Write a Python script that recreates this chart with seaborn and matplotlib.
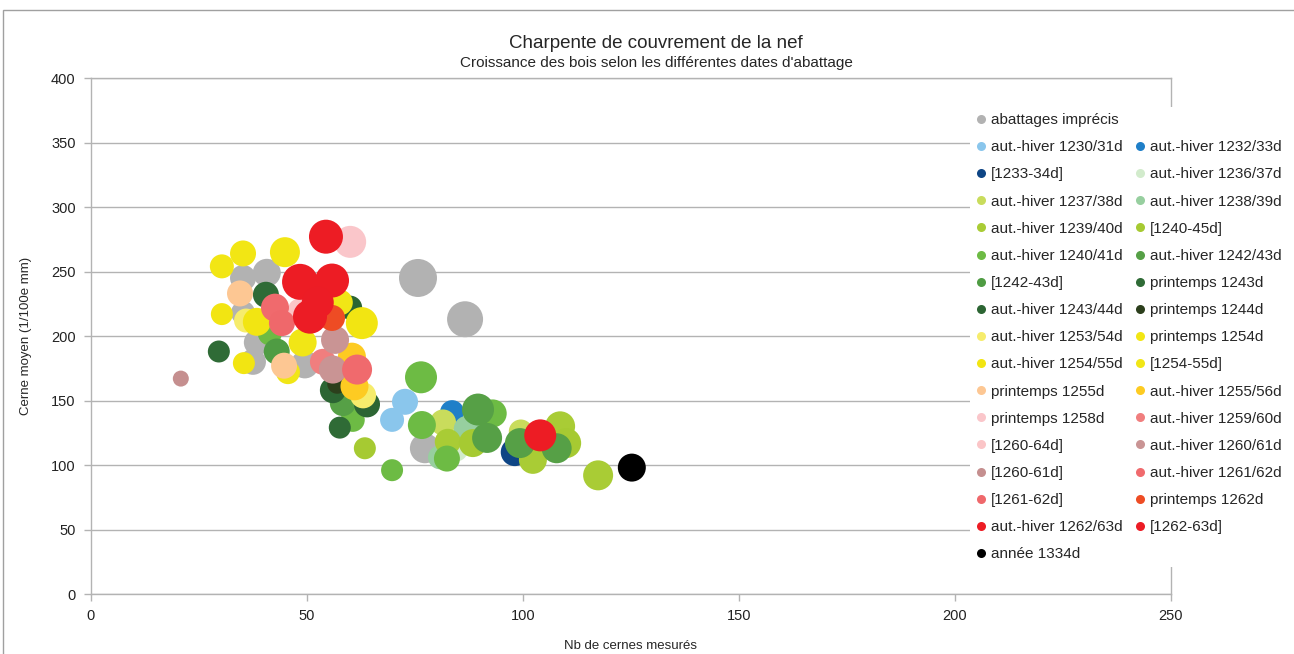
import pandas as pd
import matplotlib.pyplot as plt
import seaborn as sns
from matplotlib.lines import Line2D
from matplotlib.patches import Rectangle

# === DONNEES ===

series_names = [
    "abattages imprécis", "aut.-hiver 1230/31d", "aut.-hiver 1232/33d", "[1233-34d]",
    "aut.-hiver 1236/37d", "aut.-hiver 1237/38d", "aut.-hiver 1238/39d", "aut.-hiver 1239/40d",
    "[1240-45d]", "aut.-hiver 1240/41d", "aut.-hiver 1242/43d", "[1242-43d]",
    "printemps 1243d", "aut.-hiver 1243/44d", "printemps 1244d", "aut.-hiver 1253/54d",
    "printemps 1254d", "aut.-hiver 1254/55d", "[1254-55d]", "printemps 1255d",
    "aut.-hiver 1255/56d", "printemps 1258d", "aut.-hiver 1259/60d", "[1260-64d]",
    "aut.-hiver 1260/61d", "[1260-61d]", "aut.-hiver 1261/62d", "[1261-62d]",
    "printemps 1262d", "aut.-hiver 1262/63d", "[1262-63d]", "année 1334d",
]

series_colors = [
    "#b2b2b2", "#8ac6ec", "#1f7fc8", "#0e4585",
    "#d2ebcc", "#c9dc5c", "#97cf9f", "#a9cc35",
    "#a6ca32", "#6dbb44", "#56a046", "#4f9c43",
    "#2f6b36", "#2c6533", "#2c3f1c", "#f6ec6c",
    "#f2e614", "#f2e512", "#f1e616", "#fdc793",
    "#fdcb22", "#fac6ca", "#f07e7e", "#fbc5c7",
    "#c99494", "#c58f8f", "#f06a6d", "#ef686b",
    "#ee4c24", "#ed1c24", "#ec1c25", "#000000",
]

serie = (
    ["abattages imprécis"] * 9
    + ["aut.-hiver 1230/31d"] * 2 + ["aut.-hiver 1232/33d"] + ["[1233-34d]"]
    + ["aut.-hiver 1236/37d"] + ["aut.-hiver 1237/38d"] * 2 + ["aut.-hiver 1238/39d"] * 2
    + ["aut.-hiver 1239/40d"] * 4 + ["[1240-45d]"] * 3 + ["aut.-hiver 1240/41d"] * 7
    + ["aut.-hiver 1242/43d"] * 5 + ["[1242-43d]"] * 1
    + ["printemps 1243d"] * 3 + ["aut.-hiver 1243/44d"] * 3 + ["printemps 1244d"]
    + ["aut.-hiver 1253/54d"] * 2 + ["printemps 1254d"] * 3 + ["aut.-hiver 1254/55d"] * 4
    + ["[1254-55d]"] * 3 + ["printemps 1255d"] * 2 + ["aut.-hiver 1255/56d"] * 2
    + ["printemps 1258d"] + ["aut.-hiver 1259/60d"] + ["[1260-64d]"]
    + ["aut.-hiver 1260/61d"] * 2 + ["[1260-61d]"] + ["aut.-hiver 1261/62d"] * 2
    + ["[1261-62d]"] + ["printemps 1262d"] + ["aut.-hiver 1262/63d"] * 4
    + ["[1262-63d]"] * 2 + ["année 1334d"]
)

nb_cernes = [
    75.7, 86.6, 40.7, 35.2, 35.2, 38.4, 49.5, 77.3, 37.5,
    72.7, 69.7, 83.6, 98.1,
    84.5, 81.5, 99.5, 87.0, 80.8,
    117.4, 108.6, 82.6, 102.3, 110.0, 88.4, 63.4,
    76.4, 76.6, 82.4, 69.7, 93.0, 41.4, 60.6,
    89.6, 91.7, 99.3, 107.8, 58.3, 43.0,
    40.5, 29.6, 57.6, 56.0, 63.9, 60.0, 57.0,
    35.9, 63.0, 30.3, 35.2, 44.9, 30.3, 35.4, 38.4, 62.7,
    49.0, 57.6, 45.6, 34.5, 44.7, 60.4, 61.0,
    60.0, 53.7, 48.0,
    56.5, 56.0, 20.8, 42.6, 61.6,
    44.2, 55.8, 54.4, 48.4, 55.8, 104.0,
    50.7, 52.5, 125.2,
]

cerne_moyen = [
    245, 213, 249, 245, 218, 195, 178, 113, 180,
    149, 135, 141, 110,
    112, 133, 126, 128, 106,
    92, 130, 118, 104, 117, 117, 113,
    168, 131, 105, 96, 140, 202, 135,
    143, 121, 117, 113, 148, 188,
    232, 188, 129, 158, 147, 222, 163,
    212, 154, 254, 264, 265, 217, 179, 211, 210,
    195, 226, 172, 233, 177, 184, 161,
    273, 180, 221,
    197, 174, 167, 222, 174,
    210, 214, 277, 242, 243, 123,
    215, 226, 98,
]

# valeur portée par la taille des bulles
taille = [
    361, 324, 196, 169, 144, 169, 196, 225, 169,
    169, 144, 144, 196,
    144, 169, 144, 169, 144,
    225, 225, 169, 196, 225, 196, 121,
    256, 196, 169, 121, 196, 144, 144,
    256, 225, 225, 225, 169, 169,
    169, 121, 121, 169, 169, 144, 100,
    144, 169, 144, 169, 225, 121, 121, 196, 256,
    196, 169, 144, 169, 169, 196, 196,
    256, 169, 100,
    196, 196, 64, 196, 225,
    169, 169, 289, 324, 289, 256,
    289, 256, 196,
]

df = pd.DataFrame({"serie": serie, "x": nb_cernes, "y": cerne_moyen, "taille": taille})
palette = dict(zip(series_names, series_colors))

# === FIGURE ===

sns.set_style("white")
plt.rcParams["font.family"] = ["Liberation Sans", "DejaVu Sans"]

fig = plt.figure(figsize=(12.94, 6.54), dpi=100)
ax = fig.add_axes([0.0703, 0.0917, 0.8346, 0.789])

sns.scatterplot(data=df, x="x", y="y", hue="serie", hue_order=series_names,
                palette=palette, size="taille", sizes=(0, 829), size_norm=(0, 400),
                linewidth=0, alpha=1, legend=False, ax=ax, zorder=3)

ax.set_xlim(0, 250)
ax.set_ylim(0, 400)
ax.set_xticks(range(0, 251, 50))
ax.set_yticks(range(0, 401, 50))
ax.yaxis.grid(True, color="#b3b3b3", linewidth=1)
ax.set_axisbelow(True)
for side in ["left", "bottom", "right", "top"]:
    ax.spines[side].set_color("#b3b3b3")
    ax.spines[side].set_linewidth(1)
ax.tick_params(axis="both", length=5, width=1, color="#b3b3b3", labelsize=10.5,
               labelcolor="#222222", pad=6)
ax.tick_params(axis="x", bottom=True)
ax.tick_params(axis="y", left=True)

ax.set_xlabel("Nb de cernes mesurés", fontsize=9.5, labelpad=12)
ax.set_ylabel("Cerne moyen (1/100e mm)", fontsize=9.5, labelpad=14)

fig.text(0.507, 0.926, "Charpente de couvrement de la nef", ha="center", fontsize=13.5)
fig.text(0.507, 0.897, "Croissance des bois selon les différentes dates d'abattage",
         ha="center", fontsize=11)

# cadre extérieur
fig.patches.append(Rectangle((3 / 1294, -0.1), 1.2, 1.1 - 10 / 654, transform=fig.transFigure,
                             fill=False, edgecolor="#a0a0a0", linewidth=1))

# === LEGENDE (2 colonnes, ordre ligne par ligne) ===

def handle(name):
    return Line2D([], [], linestyle="none", marker="o", markersize=6.5,
                  markerfacecolor=palette[name], markeredgewidth=0)

blank = Line2D([], [], linestyle="none")
middle = series_names[1:-1]
col1 = [handle(series_names[0])] + [handle(n) for n in middle[0::2]] + [handle(series_names[-1])]
col2 = [blank] + [handle(n) for n in middle[1::2]] + [blank]
lab1 = [series_names[0]] + middle[0::2] + [series_names[-1]]
lab2 = [""] + middle[1::2] + [""]

leg = fig.legend(col1 + col2, lab1 + lab2, ncol=2, loc="upper left",
                 bbox_to_anchor=(0.744, 0.848), fontsize=11, frameon=True,
                 facecolor="white", edgecolor="none", framealpha=1,
                 handlelength=0.6, handletextpad=0.35, columnspacing=0.85,
                 labelspacing=0.86, borderpad=0.4)
leg.get_frame().set_boxstyle("square", pad=0)

fig.savefig("out.png", dpi=100)
